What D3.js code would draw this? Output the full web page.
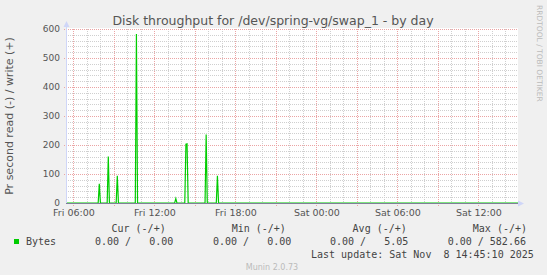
<!DOCTYPE html>
<html>
<head>
<meta charset="utf-8">
<script src="https://cdn.jsdelivr.net/npm/d3@7"></script>
<style>
body { margin: 0; background: #f0f0f0; }
svg { display: block; }
text { font-family: "DejaVu Sans", sans-serif; fill: #555; }
.mono { font-family: "DejaVu Sans Mono", monospace; white-space: pre; fill: #444; }
</style>
</head>
<body>
<svg width="547" height="275"></svg>
<script>
// time window shown (UTC, munin's day view)
var startTime = "2025-11-07 05:27";
var endTime = "2025-11-08 14:56";

// write (+) bytes per second, 5 minute samples; zero everywhere else
var writeTimes = [
    "2025-11-07 05:27",
    "2025-11-07 07:50", "2025-11-07 07:55", "2025-11-07 08:00",
    "2025-11-07 08:30", "2025-11-07 08:35", "2025-11-07 08:40",
    "2025-11-07 09:10", "2025-11-07 09:15", "2025-11-07 09:20",
    "2025-11-07 10:35", "2025-11-07 10:40", "2025-11-07 10:45",
    "2025-11-07 13:30", "2025-11-07 13:35", "2025-11-07 13:40",
    "2025-11-07 14:15", "2025-11-07 14:20", "2025-11-07 14:25", "2025-11-07 14:30",
    "2025-11-07 15:45", "2025-11-07 15:50", "2025-11-07 15:55",
    "2025-11-07 16:35", "2025-11-07 16:40", "2025-11-07 16:45",
    "2025-11-08 14:56"
];
var writeValues = [
    0,
    0, 66, 0,
    0, 160, 0,
    0, 94, 0,
    0, 583, 0,
    0, 15, 0,
    0, 203, 204, 0,
    0, 236, 0,
    0, 94, 0,
    0
];

var yTicks = [0, 100, 200, 300, 400, 500, 600];
var xLabelTimes = ["2025-11-07 06:00", "2025-11-07 12:00", "2025-11-07 18:00",
                   "2025-11-08 00:00", "2025-11-08 06:00", "2025-11-08 12:00"];

var legendHeaders = ["Cur (-/+)", "Min (-/+)", "Avg (-/+)", "Max (-/+)"];
var legendValues = ["0.00 /   0.00", "0.00 /   0.00", "0.00 /   5.05", "0.00 / 582.66"];
var seriesName = "Bytes";
var lastUpdate = "Last update: Sat Nov  8 14:45:10 2025";

var parse = d3.utcParse("%Y-%m-%d %H:%M");
var svg = d3.select("svg");

var pLeft = 66, pRight = 518, pTop = 29, pBottom = 203;

var x = d3.scaleUtc()
    .domain([parse(startTime), parse(endTime)])
    .range([pLeft, pRight]);

var y = d3.scaleLinear()
    .domain([0, 600])
    .range([pBottom, pTop]);

// canvas
svg.append("rect")
    .attr("x", pLeft).attr("y", pTop - 1)
    .attr("width", pRight - pLeft).attr("height", pBottom - pTop + 1)
    .attr("fill", "#fff");

// minor grid
var hours = x.ticks(d3.utcHour.every(1));
svg.append("g").selectAll("line")
    .data(hours.filter(function(d) { return d.getUTCHours() % 3 != 0; }))
    .enter().append("line")
    .attr("x1", function(d) { return Math.round(x(d)) + 0.5; })
    .attr("x2", function(d) { return Math.round(x(d)) + 0.5; })
    .attr("y1", pTop).attr("y2", pBottom)
    .attr("stroke", "#cfcfcf").attr("stroke-dasharray", "1,1");

svg.append("g").selectAll("line")
    .data(d3.range(0, 601, 20).filter(function(v) { return v % 100 != 0; }))
    .enter().append("line")
    .attr("x1", pLeft).attr("x2", pRight)
    .attr("y1", function(d) { return Math.round(y(d)) + 0.5; })
    .attr("y2", function(d) { return Math.round(y(d)) + 0.5; })
    .attr("stroke", "#cfcfcf").attr("stroke-dasharray", "1,1");

// major grid
svg.append("g").selectAll("line")
    .data(hours.filter(function(d) { return d.getUTCHours() % 3 == 0; }))
    .enter().append("line")
    .attr("x1", function(d) { return Math.round(x(d)) + 0.5; })
    .attr("x2", function(d) { return Math.round(x(d)) + 0.5; })
    .attr("y1", pTop).attr("y2", pBottom + 3)
    .attr("stroke", "#eba4a4").attr("stroke-dasharray", "1,1");

svg.append("g").selectAll("line")
    .data(yTicks.filter(function(v) { return v > 0; }))
    .enter().append("line")
    .attr("x1", pLeft - 2).attr("x2", pRight)
    .attr("y1", function(d) { return Math.round(y(d)) + 0.5; })
    .attr("y2", function(d) { return Math.round(y(d)) + 0.5; })
    .attr("stroke", "#eba4a4").attr("stroke-dasharray", "1,1");

// write line
var pts = writeTimes.map(function(t, i) { return [parse(t), writeValues[i]]; });
svg.append("path")
    .datum(pts)
    .attr("fill", "none")
    .attr("stroke", "#00cc00")
    .attr("stroke-width", 1.2)
    .attr("d", d3.line()
        .x(function(d) { return x(d[0]); })
        .y(function(d) { return y(d[1]); }));

// axes
svg.append("line")
    .attr("x1", pLeft + 0.5).attr("x2", pLeft + 0.5)
    .attr("y1", pBottom).attr("y2", pTop - 4)
    .attr("stroke", "#cfd6f8");
svg.append("path")
    .attr("d", "M" + (pLeft + 0.5) + "," + (pTop - 8) + "l-3,6h6z")
    .attr("fill", "#cfd6f8");
svg.append("line")
    .attr("x1", pLeft).attr("x2", pRight + 2)
    .attr("y1", pBottom + 0.5).attr("y2", pBottom + 0.5)
    .attr("stroke", "#7f7f99");
svg.append("path")
    .attr("d", "M" + (pRight + 6) + "," + (pBottom + 0.5) + "l-6,-3v6z")
    .attr("fill", "#cfd6f8");

// tick labels
svg.append("g")
    .attr("transform", "translate(" + (pLeft - 6) + ",0)")
    .call(d3.axisLeft(y).tickValues(yTicks).tickSize(0).tickPadding(0))
    .call(function(g) { g.select(".domain").remove(); })
    .selectAll("text")
    .attr("font-family", "DejaVu Sans").attr("font-size", 9).attr("fill", "#555");

svg.append("g")
    .attr("transform", "translate(0," + (pBottom + 6) + ")")
    .call(d3.axisBottom(x).tickValues(xLabelTimes.map(parse))
        .tickFormat(d3.utcFormat("%a %H:%M")).tickSize(0).tickPadding(0))
    .call(function(g) { g.select(".domain").remove(); })
    .selectAll("text")
    .attr("font-family", "DejaVu Sans").attr("font-size", 9.5).attr("fill", "#555");

// title and side texts
svg.append("text")
    .attr("x", 273).attr("y", 24.5)
    .attr("text-anchor", "middle")
    .attr("font-size", 12.5)
    .text("Disk throughput for /dev/spring-vg/swap_1 - by day");

svg.append("text")
    .attr("transform", "translate(13,116) rotate(-90)")
    .attr("text-anchor", "middle")
    .attr("font-size", 11)
    .text("Pr second read (-) / write (+)");

svg.append("text")
    .attr("transform", "translate(537,5) rotate(90)")
    .attr("font-size", 7.5)
    .style("fill", "#bbb")
    .text("RRDTOOL / TOBI OETIKER");

// legend
var headX = [111.5, 231.7, 352.6, 472.8];
var valX = [95, 213, 330, 447.7];

svg.append("g").selectAll("text")
    .data(legendHeaders)
    .enter().append("text")
    .attr("class", "mono")
    .attr("x", function(d, i) { return headX[i]; })
    .attr("y", 231.5)
    .attr("font-size", 10)
    .text(function(d) { return d; });

svg.append("rect")
    .attr("x", 14).attr("y", 239)
    .attr("width", 5).attr("height", 5)
    .attr("fill", "#00cc00");

svg.append("text")
    .attr("class", "mono")
    .attr("x", 26).attr("y", 245)
    .attr("font-size", 10)
    .text(seriesName);

svg.append("g").selectAll("text")
    .data(legendValues)
    .enter().append("text")
    .attr("class", "mono")
    .attr("x", function(d, i) { return valX[i]; })
    .attr("y", 245)
    .attr("font-size", 10)
    .text(function(d) { return d; });

svg.append("text")
    .attr("class", "mono")
    .attr("x", 311).attr("y", 257.5)
    .attr("font-size", 10)
    .text(lastUpdate);

svg.append("text")
    .attr("x", 272).attr("y", 269.5)
    .attr("text-anchor", "middle")
    .attr("font-size", 8)
    .style("fill", "#bbb")
    .text("Munin 2.0.73");
</script>
</body>
</html>
